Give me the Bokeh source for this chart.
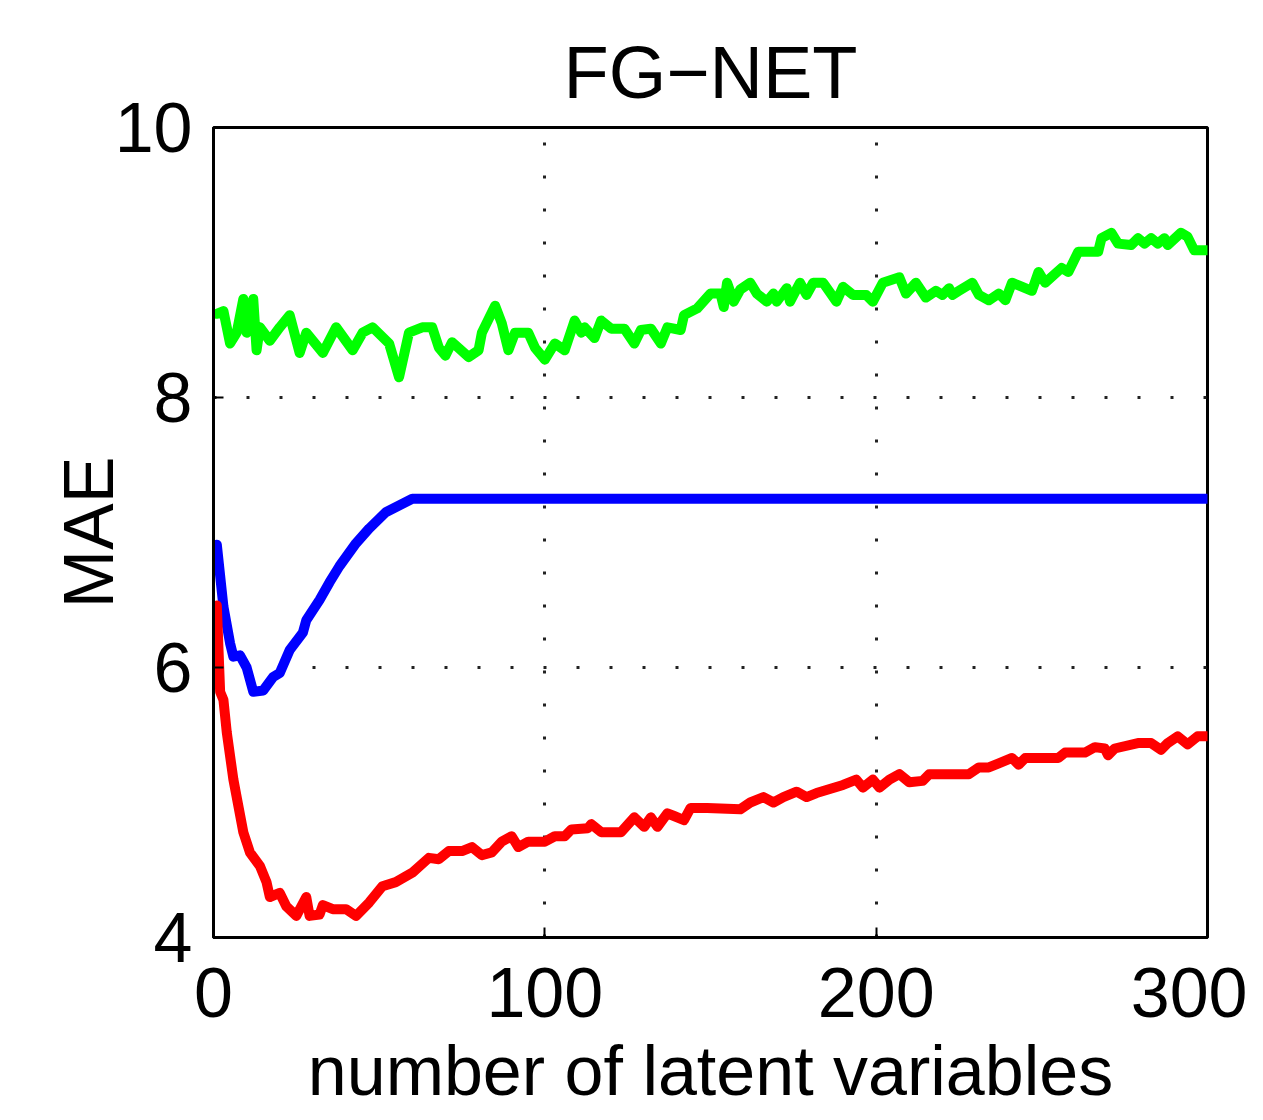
from bokeh.plotting import figure
from bokeh.models import FixedTicker, Range1d
from bokeh.embed import file_html
from bokeh.resources import INLINE

# ---- data ----
green_x = [1, 3, 5, 7, 9, 10, 12, 13, 14, 17, 20, 23, 26, 28, 33, 37, 42, 45, 48, 53,
           56, 59, 63, 66, 68, 70, 72, 77, 80, 81, 85, 87, 89, 91, 95, 97, 100, 103, 106, 109,
           111, 112, 115, 117, 120, 124, 127, 129, 132, 135, 137, 141, 142, 146, 150, 153, 154, 155, 157, 159,
           162, 164, 167, 169, 170, 173, 174, 177, 179, 181, 184, 188, 190, 193, 197, 199, 202, 207, 209, 212,
           215, 218, 220, 222, 223, 225, 229, 231, 234, 237, 239, 241, 243, 247, 249, 251, 256, 258, 261, 267,
           268, 271, 273, 277, 279, 281, 283, 285, 287, 288, 292, 294, 296, 300]
green_y = [8.62, 8.64, 8.40, 8.48, 8.73, 8.48, 8.73, 8.35, 8.52, 8.42, 8.52, 8.61, 8.33, 8.48, 8.33, 8.52, 8.35, 8.48, 8.52, 8.40,
           8.15, 8.48, 8.52, 8.52, 8.37, 8.31, 8.41, 8.30, 8.35, 8.48, 8.68, 8.55, 8.35, 8.48, 8.48, 8.37, 8.28, 8.40, 8.35, 8.57,
           8.48, 8.52, 8.44, 8.57, 8.51, 8.51, 8.40, 8.50, 8.51, 8.40, 8.52, 8.50, 8.61, 8.66, 8.77, 8.77, 8.67, 8.85, 8.71, 8.80,
           8.85, 8.77, 8.71, 8.77, 8.71, 8.81, 8.71, 8.85, 8.76, 8.85, 8.85, 8.71, 8.82, 8.76, 8.76, 8.71, 8.85, 8.89, 8.77, 8.85,
           8.74, 8.79, 8.76, 8.81, 8.76, 8.79, 8.85, 8.76, 8.72, 8.77, 8.72, 8.85, 8.83, 8.79, 8.93, 8.85, 8.96, 8.93, 9.08, 9.08,
           9.18, 9.22, 9.14, 9.13, 9.18, 9.14, 9.18, 9.14, 9.18, 9.13, 9.22, 9.19, 9.09, 9.09]

blue_x = [1, 3, 5, 6, 8, 10, 12, 15, 18, 20, 23, 27, 28, 32, 35, 38, 43, 47, 52, 56, 60, 300]
blue_y = [6.91, 6.45, 6.18, 6.08, 6.09, 6.00, 5.82, 5.83, 5.93, 5.96, 6.13, 6.26, 6.35, 6.50, 6.63, 6.75, 6.92, 7.03, 7.15, 7.20, 7.25, 7.25]

red_x = [1, 2, 3, 4, 6, 7, 9, 11, 14, 16, 17, 20, 22, 25, 28, 29, 32, 33, 36, 40,
         43, 47, 51, 55, 60, 65, 68, 71, 75, 78, 81, 84, 87, 90, 92, 95, 100, 103, 106, 108,
         113, 114, 117, 123, 127, 130, 132, 134, 137, 139, 142, 144, 149, 159, 162, 166, 169, 172, 176, 179,
         182, 186, 190, 194, 196, 199, 201, 204, 207, 210, 214, 216, 228, 231, 234, 237, 241, 243, 245, 255,
         257, 263, 266, 269, 270, 272, 279, 283, 286, 288, 291, 294, 297, 300]
red_y = [6.46, 5.82, 5.76, 5.52, 5.17, 5.04, 4.78, 4.63, 4.53, 4.41, 4.30, 4.33, 4.23, 4.16, 4.30, 4.16, 4.17, 4.24, 4.21, 4.21,
         4.16, 4.26, 4.38, 4.41, 4.48, 4.59, 4.58, 4.64, 4.64, 4.67, 4.61, 4.63, 4.71, 4.75, 4.67, 4.71, 4.71, 4.75, 4.75, 4.80,
         4.81, 4.84, 4.78, 4.78, 4.89, 4.82, 4.89, 4.82, 4.92, 4.90, 4.87, 4.96, 4.96, 4.95, 5.00, 5.04, 5.00, 5.04, 5.08, 5.04,
         5.07, 5.10, 5.13, 5.17, 5.11, 5.17, 5.11, 5.17, 5.21, 5.15, 5.16, 5.21, 5.21, 5.26, 5.26, 5.29, 5.33, 5.28, 5.33, 5.33,
         5.37, 5.37, 5.41, 5.40, 5.35, 5.40, 5.44, 5.44, 5.39, 5.44, 5.49, 5.43, 5.49, 5.49]

x_ticks = [0, 100, 200, 300]
y_ticks = [4, 6, 8, 10]
x_grid = [100, 200]
y_grid = [6, 8]
x_label = "number of latent variables"
y_label = "MAE"
title_text = "FG\u2212NET"

FONT = "Liberation Sans"

p = figure(width=1247, height=1112, output_backend="svg", toolbar_location=None,
           x_range=Range1d(0, 300), y_range=Range1d(4, 10),
           min_border_left=213, min_border_right=40, min_border_top=127, min_border_bottom=174,
           title=title_text)

p.title.text_font = FONT
p.title.text_font_size = "74px"
p.title.text_font_style = "normal"
p.title.align = "center"
p.title.standoff = 28
p.title.text_color = "black"

p.background_fill_color = "white"
p.border_fill_color = "white"
p.outline_line_color = "black"
p.outline_line_width = 3

for ax in (p.xaxis[0], p.yaxis[0]):
    ax.major_label_text_font = FONT
    ax.major_label_text_font_size = "70px"
    ax.major_label_text_color = "black"
    ax.axis_label_text_font = FONT
    ax.axis_label_text_font_size = "70px"
    ax.axis_label_text_font_style = "normal"
    ax.axis_label_text_color = "black"
    ax.axis_line_color = "black"
    ax.axis_line_width = 3
    ax.major_tick_in = 10
    ax.major_tick_out = 0
    ax.major_tick_line_width = 2
    ax.major_tick_line_color = "black"
    ax.minor_tick_line_color = None

p.xaxis[0].ticker = FixedTicker(ticks=x_ticks)
p.yaxis[0].ticker = FixedTicker(ticks=y_ticks)
p.xaxis[0].axis_label = x_label
p.yaxis[0].axis_label = y_label
p.xaxis[0].major_label_standoff = 30
p.xaxis[0].axis_label_standoff = 12
p.yaxis[0].major_label_standoff = 21
p.yaxis[0].axis_label_standoff = -16

p.xgrid[0].ticker = FixedTicker(ticks=x_grid)
p.ygrid[0].ticker = FixedTicker(ticks=y_grid)
for g in (p.xgrid[0], p.ygrid[0]):
    g.grid_line_color = "#222222"
    g.grid_line_width = 3
    g.grid_line_dash = "3 30"

style = dict(line_width=10, line_join="round", line_cap="round")
p.line(green_x, green_y, line_color="#00ff00", **style)
p.line(blue_x, blue_y, line_color="#0000ff", **style)
p.line(red_x, red_y, line_color="#ff0000", **style)

open("out.html", "w").write(file_html(p, INLINE))
